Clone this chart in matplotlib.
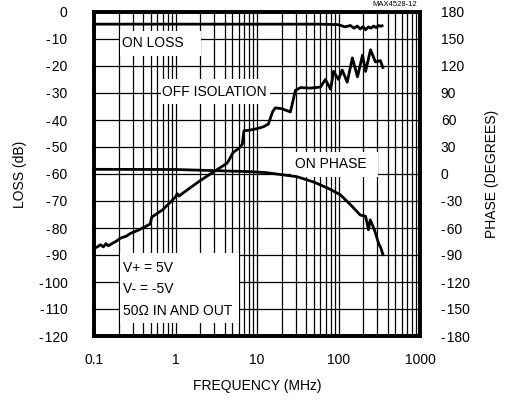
import matplotlib
matplotlib.use("Agg")
import matplotlib.pyplot as plt
from matplotlib.patches import Rectangle

plt.rcParams['font.family'] = ['Liberation Sans', 'DejaVu Sans']

# OFF ISOLATION (dB)
iso_freq = [0.1, 0.11, 0.12, 0.13, 0.14, 0.15, 0.17, 0.19, 0.21, 0.25, 0.28, 0.35, 0.42, 0.49, 0.51,
            0.7, 1.0, 1.05, 1.1, 1.5, 2.0, 3.0, 4.3, 4.6, 5.1, 6.0, 6.6, 6.9, 8.0, 10, 12, 13.8,
            15.5, 16.8, 20, 25.7, 29.6, 34.2, 45, 60, 69, 80, 87, 100, 111, 128, 148, 171, 197,
            215, 247, 284, 326, 355]
iso_db = [-87.5, -87.0, -86.2, -87.0, -85.8, -86.6, -85.6, -84.8, -83.8, -83.0, -82.0, -80.8, -79.6, -78.5, -76.0,
          -73.2, -68.5, -67.3, -68.2, -65.2, -62.5, -59.0, -56.0, -54.5, -52.0, -50.5, -49.0, -44.0, -43.8, -43.2, -42.5, -41.5,
          -37.0, -35.5, -35.8, -37.0, -29.0, -28.0, -28.2, -27.8, -25.0, -28.6, -22.0, -25.0, -21.5, -26.0, -17.0, -24.0, -16.0,
          -22.0, -14.0, -18.5, -18.0, -21.0]

# ON LOSS (dB)
loss_freq = [0.1, 1, 10, 60, 100, 120, 140, 155, 170, 185, 200, 215, 233, 250, 270, 290, 310, 330, 355]
loss_db = [-4.5, -4.5, -4.5, -4.5, -4.7, -5.5, -5.0, -6.0, -5.2, -6.3, -5.4, -6.6, -5.5, -6.0, -5.2, -5.8, -5.0, -5.3, -4.9]

# ON PHASE (degrees)
ph_freq = [0.1, 1, 8.3, 13, 31, 50, 75, 105, 140, 185, 215, 233, 245, 265, 284, 310, 330, 355]
ph_deg = [5.2, 5.0, 2.6, 1.5, -3.0, -9.0, -16.0, -23.0, -34.0, -45.6, -47.0, -62.0, -51.0, -58.0, -65.5, -77.0, -82.0, -91.0]

loss_ticks = list(range(0, -130, -10))
phase_ticks = list(range(180, -210, -30))
x_ticks = [0.1, 1, 10, 100, 1000]
x_labels = ['0.1', '1', '10', '100', '1000']

FS = 10

def lab(t):
    return str(t) if t >= 0 else '-\u200a' + str(-t)

fig = plt.figure(figsize=(5.19, 4.0), dpi=100)
ax = fig.add_axes([94 / 519, 64 / 400, 326 / 519, 324 / 400])
ax.set_xscale('log')
ax.set_xlim(0.1, 1000)
ax.set_ylim(-120, 0)

# grid
for d in [0.1, 1, 10, 100]:
    for m in range(1, 10):
        ax.axvline(d * m, color='black', lw=0.9, zorder=1)
for y in loss_ticks:
    ax.axhline(y, color='black', lw=0.9, zorder=1)

# white label boxes (cover the grid)
def box(f0, f1, y0, y1):
    ax.add_patch(Rectangle((f0, y1), f1 - f0, y0 - y1, facecolor='white', edgecolor='none', zorder=2))

box(0.211, 2.03, -7.0, -16.3)
box(0.655, 14.6, -24.8, -34.1)
box(25.8, 301, -51.9, -61.1)
box(0.211, 5.93, -89.3, -115.2)

ax.plot(loss_freq, loss_db, color='black', lw=2.0, zorder=4, solid_capstyle='butt')
ax.plot(iso_freq, iso_db, color='black', lw=2.0, zorder=4, solid_capstyle='butt')

ax.text(0.22, -11.5, 'ON LOSS', fontsize=FS, va='center', ha='left', zorder=3)
ax.text(0.69, -29.6, 'OFF ISOLATION', fontsize=FS, va='center', ha='left', zorder=3)
ax.text(29.6, -56.3, 'ON PHASE', fontsize=FS, va='center', ha='left', zorder=3)
ax.text(0.225, -94.8, 'V+ = 5V', fontsize=FS, va='center', ha='left', zorder=3)
ax.text(0.225, -102.6, 'V- = -5V', fontsize=FS, va='center', ha='left', zorder=3)
ax.text(0.225, -110.7, '50Ω IN AND OUT', fontsize=FS, va='center', ha='left', zorder=3)

ax2 = ax.twinx()
ax2.set_ylim(-180, 180)
ax2.set_yticks(phase_ticks)
ax2.set_yticklabels([lab(t) for t in phase_ticks], fontsize=FS)
ax2.plot(ph_freq, ph_deg, color='black', lw=2.0, zorder=4, solid_capstyle='butt')

ax.set_yticks(loss_ticks)
ax.set_yticklabels([lab(t) for t in loss_ticks], fontsize=FS)
ax.set_xticks(x_ticks)
ax.set_xticklabels(x_labels, fontsize=FS)
ax.minorticks_off()

for a in (ax, ax2):
    for s in a.spines.values():
        s.set_linewidth(2.6)
ax.tick_params(axis='y', length=0, pad=19)
ax.tick_params(axis='x', length=0, pad=12)
ax2.tick_params(axis='y', length=0, pad=15)

fig.text(20 / 519, 1 - 174 / 400, 'LOSS (dB)', fontsize=FS, rotation=90, ha='center', va='center')
fig.text(492 / 519, 1 - 174 / 400, 'PHASE (DEGREES)', fontsize=FS, rotation=90, ha='center', va='center')
fig.text(257 / 519, 1 - 386 / 400, 'FREQUENCY (MHz)', fontsize=FS, ha='center', va='center')
fig.text(417 / 519, 1 - 4 / 400, 'MAX4528-12', fontsize=5.5, ha='right', va='center')

fig.savefig('out.png', dpi=100)
